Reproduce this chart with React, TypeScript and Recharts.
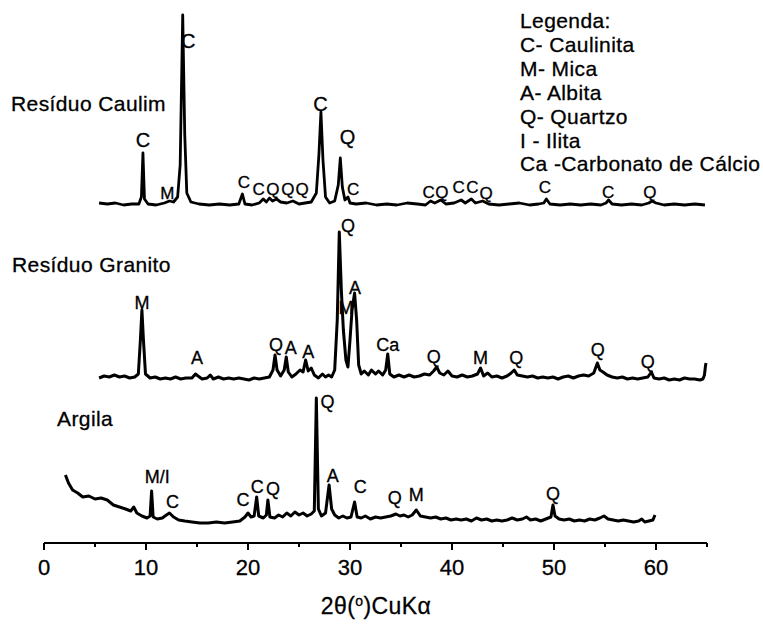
import { LineChart, Line, XAxis, YAxis, ReferenceDot } from "recharts";

// 2θ (deg) vs intensity above each pattern's own baseline (a.u.)
const caulim: [number, number][] = [
  [5.4, 2], [6.2, 1], [7.0, 2], [7.8, 0], [8.6, 1], [9.3, 1], [9.55, 8], [9.7, 52], [9.85, 6], [10.2, 1],
  [11.0, 0], [11.8, 2], [12.3, 4], [12.7, 3], [13.1, 8], [13.35, 40], [13.6, 190], [13.8, 70], [14.0, 12], [14.4, 3],
  [15.2, 1], [16.2, 0], [17.2, 1], [18.2, 0], [19.1, 1], [19.45, 11], [19.7, 1], [20.4, 0], [21.1, 2], [21.5, 6],
  [21.8, 3], [22.1, 7], [22.4, 4], [22.8, 6], [23.2, 3], [23.8, 2], [24.4, 4], [25.0, 1], [25.6, 2], [26.2, 3],
  [26.7, 12], [26.95, 50], [27.15, 93], [27.35, 45], [27.6, 8], [28.0, 2], [28.5, 4], [28.85, 20], [29.05, 47], [29.25, 18],
  [29.5, 5], [29.8, 8], [30.0, 2], [30.6, 1], [31.6, 2], [32.6, 0], [33.6, 1], [34.6, 0], [35.6, 2], [36.6, 1],
  [37.4, 0], [37.9, 4], [38.3, 2], [38.9, 5], [39.4, 1], [40.2, 2], [40.9, 5], [41.3, 2], [41.9, 6], [42.3, 2],
  [43.0, 4], [43.6, 1], [44.6, 0], [45.6, 1], [46.6, 2], [47.6, 0], [48.5, 1], [49.0, 2], [49.25, 6], [49.6, 1],
  [50.6, 0], [51.6, 1], [52.6, 0], [53.6, 1], [54.6, 0], [55.1, 2], [55.35, 5], [55.7, 1], [56.6, 0], [57.6, 1],
  [58.6, 0], [59.3, 2], [59.6, 4], [60.0, 2], [60.8, 0], [61.8, 1], [62.8, 0], [63.8, 1], [64.8, 0],
];

const granito: [number, number][] = [
  [5.4, 2], [5.9, 4], [6.4, 3], [6.9, 5], [7.4, 3], [7.9, 4], [8.4, 2], [8.9, 3], [9.25, 6], [9.45, 40],
  [9.6, 70], [9.75, 40], [9.95, 6], [10.4, 2], [10.9, 3], [11.4, 1], [11.9, 2], [12.4, 1], [12.9, 3], [13.4, 1],
  [13.9, 2], [14.5, 2], [14.85, 6], [15.1, 4], [15.5, 1], [16.0, 2], [16.3, 5], [16.6, 1], [17.1, 3], [17.6, 1],
  [18.1, 2], [18.6, 1], [19.1, 2], [19.6, 1], [20.1, 0], [20.6, 2], [21.1, 1], [21.6, 2], [22.1, 3], [22.45, 10],
  [22.65, 25], [22.85, 10], [23.2, 4], [23.55, 10], [23.75, 23], [23.95, 8], [24.3, 3], [24.7, 6], [25.1, 10], [25.4, 8],
  [25.65, 20], [25.9, 9], [26.2, 12], [26.5, 5], [26.9, 2], [27.3, 6], [27.6, 3], [27.9, 5], [28.2, 3], [28.5, 10],
  [28.75, 60], [28.95, 148], [29.15, 90], [29.35, 50], [29.6, 20], [29.8, 13], [30.0, 40], [30.2, 70], [30.45, 87], [30.65, 60],
  [30.85, 15], [31.1, 6], [31.4, 9], [31.8, 5], [32.1, 10], [32.5, 6], [32.8, 9], [33.2, 5], [33.5, 10], [33.7, 26],
  [33.9, 6], [34.3, 3], [34.8, 5], [35.3, 3], [35.8, 5], [36.3, 3], [36.8, 4], [37.3, 6], [37.8, 5], [38.2, 9],
  [38.5, 13], [38.8, 7], [39.2, 5], [39.6, 9], [40.0, 4], [40.5, 3], [41.0, 5], [41.5, 3], [42.0, 4], [42.5, 6],
  [42.8, 12], [43.1, 4], [43.5, 7], [43.9, 3], [44.4, 4], [44.9, 2], [45.4, 4], [45.8, 7], [46.1, 10], [46.4, 5],
  [46.9, 4], [47.4, 3], [47.9, 4], [48.4, 2], [48.9, 3], [49.4, 2], [49.9, 3], [50.4, 1], [50.9, 3], [51.4, 4],
  [51.9, 2], [52.4, 4], [52.9, 5], [53.4, 4], [53.9, 7], [54.25, 17], [54.5, 10], [54.8, 8], [55.2, 5], [55.7, 3],
  [56.2, 2], [56.7, 3], [57.2, 1], [57.7, 2], [58.2, 1], [58.7, 2], [59.2, 3], [59.55, 8], [59.8, 2], [60.3, 1],
  [60.8, 2], [61.3, 0], [61.8, 1], [62.3, 0], [62.8, 2], [63.3, 1], [63.8, 1], [64.3, 0], [64.6, 1], [64.75, 5],
  [64.85, 14], [64.9, 17],
];

const argila: [number, number][] = [
  [2.1, 46], [2.4, 38], [2.8, 31], [3.3, 28], [3.8, 24], [4.4, 25], [5.0, 22], [5.6, 23], [6.2, 21], [6.8, 16],
  [7.4, 14], [8.0, 12], [8.5, 10], [8.8, 14], [9.1, 8], [9.6, 5], [10.1, 3], [10.4, 5], [10.55, 30], [10.7, 4],
  [11.1, 2], [11.6, 3], [12.0, 6], [12.3, 8], [12.7, 4], [13.2, 1], [13.8, 0], [14.5, -1], [15.3, -2], [16.1, -2],
  [16.9, -1], [17.7, -2], [18.5, -1], [19.2, 0], [19.7, 4], [20.0, 8], [20.3, 4], [20.6, 5], [20.85, 24], [21.05, 5],
  [21.5, 3], [21.8, 6], [21.95, 21], [22.15, 4], [22.6, 3], [23.0, 6], [23.4, 4], [23.8, 8], [24.2, 5], [24.6, 9],
  [25.0, 6], [25.4, 8], [25.8, 5], [26.2, 7], [26.5, 10], [26.7, 123], [26.9, 12], [27.2, 5], [27.6, 8], [27.95, 36],
  [28.2, 12], [28.5, 6], [28.9, 3], [29.3, 5], [29.7, 3], [30.1, 4], [30.45, 19], [30.7, 4], [31.1, 3], [31.5, 5],
  [32.0, 2], [32.5, 4], [33.0, 3], [33.5, 4], [34.0, 5], [34.5, 7], [34.9, 5], [35.3, 6], [35.7, 4], [36.1, 6],
  [36.5, 11], [36.9, 5], [37.4, 4], [37.9, 3], [38.4, 4], [38.9, 2], [39.4, 3], [39.9, 1], [40.4, 2], [40.9, 1],
  [41.4, 2], [41.9, 0], [42.4, 3], [42.9, 1], [43.4, 2], [43.9, 0], [44.4, 1], [44.9, 0], [45.4, 1], [45.9, 3],
  [46.4, 1], [46.9, 2], [47.3, 4], [47.7, 1], [48.2, 2], [48.7, 0], [49.2, 2], [49.7, 4], [49.9, 16], [50.1, 5],
  [50.5, 2], [51.0, 1], [51.5, 2], [52.0, 0], [52.5, 1], [53.0, 0], [53.5, 2], [54.0, 1], [54.5, 3], [54.9, 5],
  [55.3, 2], [55.8, 1], [56.3, 0], [56.8, 1], [57.3, 0], [57.8, -1], [58.3, 0], [58.6, 2], [58.9, -1], [59.3, 0],
  [59.7, 1], [59.9, 6],
];

// stacking offsets of the three patterns
const CAULIM_OFFSET = 338;
const GRANITO_OFFSET = 163;
const ARGILA_OFFSET = 22;

// phase labels: [2θ, intensity above baseline, phase]
const caulimMarks: [number, number, string][] = [
  [9.7, 65, "C"], [14.15, 164, "C"], [27.1, 101, "C"], [29.75, 68, "Q"],
];
const caulimSmallMarks: [number, number, string][] = [
  [12.1, 12, "M"], [19.6, 23, "C"], [21.05, 16, "C"], [22.45, 16, "Q"], [23.9, 16, "Q"], [25.3, 16, "Q"],
  [30.3, 16, "C"], [37.7, 13, "C"], [39.0, 13, "Q"], [40.65, 18, "C"], [42.0, 18, "C"], [43.35, 12, "Q"],
  [49.1, 18, "C"], [55.3, 13, "C"], [59.4, 13, "Q"],
];
const granitoMarks: [number, number, string][] = [
  [9.6, 77, "M"], [15.0, 22, "A"], [22.75, 35, "Q"], [24.2, 32, "A"], [25.9, 28, "A"], [29.8, 154, "Q"],
  [29.6, 72, "M"], [30.5, 92, "A"], [33.7, 35, "Ca"], [38.2, 23, "Q"], [42.8, 22, "M"], [46.3, 22, "Q"],
  [54.3, 30, "Q"], [59.2, 18, "Q"],
];
const argilaMarks: [number, number, string][] = [
  [11.1, 44, "M/I"], [12.6, 19, "C"], [19.5, 21, "C"], [20.9, 34, "C"], [22.45, 32, "Q"], [27.8, 119, "Q"],
  [28.3, 45, "A"], [31.0, 34, "C"], [34.4, 23, "Q"], [36.5, 26, "M"], [49.9, 27, "Q"],
];

const majorTicks = [0, 10, 20, 30, 40, 50, 60];
const minorTicks = [5, 15, 25, 35, 45, 55, 65];

const legendLines = [
  "Legenda:",
  "C- Caulinita",
  "M- Mica",
  "A- Albita",
  "Q- Quartzo",
  "I - Ilita",
  "Ca -Carbonato de Cálcio",
];

const toRows = (pts: [number, number][], off: number) => pts.map(([t, i]) => ({ t, v: i + off }));

const FONT = '"Liberation Sans", Arial, Helvetica, sans-serif';

function Tick({ x, y, payload }: any) {
  const major = payload.value % 10 === 0;
  return (
    <g>
      <line x1={x} x2={x} y1={y} y2={y + (major ? 7 : 4)} stroke="#000" strokeWidth={2} />
      {major && (
        <text x={x} y={y + 24} textAnchor="middle" dominantBaseline="central" fontSize={22} fill="#000" stroke="#000" strokeWidth={0.3}>
          {payload.value}
        </text>
      )}
    </g>
  );
}

function Marks({ marks, off, size }: { marks: [number, number, string][]; off: number; size: number }) {
  return (
    <>
      {marks.map(([t, i, s], k) => (
        <ReferenceDot
          key={`${s}${k}${off}${size}`}
          x={t}
          y={i + off}
          r={0}
          fill="none"
          stroke="none"
          label={{ value: s, position: "center", fill: "#000", stroke: "#000", strokeWidth: 0.3, fontSize: size }}
        />
      ))}
    </>
  );
}

const textStyle = (left: number, top: number, size: number): React.CSSProperties => ({
  position: "absolute",
  left,
  top,
  fontSize: size,
  lineHeight: 1,
  letterSpacing: 0.4,
  transform: "translateY(-50%)",
  whiteSpace: "nowrap",
  color: "#000",
  WebkitTextStroke: "0.3px #000",
});

export default function App() {
  return (
    <div style={{ position: "absolute", left: 0, top: 0, width: 763, height: 626, background: "#fff", fontFamily: FONT }}>
      <LineChart width={763} height={626} margin={{ top: 13, right: 56, bottom: 0, left: 44 }}>
        <XAxis
          dataKey="t"
          type="number"
          domain={[0, 65]}
          ticks={[...majorTicks, ...minorTicks].sort((a, b) => a - b)}
          tick={<Tick />}
          tickSize={0}
          tickMargin={0}
          tickLine={false}
          height={83}
          axisLine={{ stroke: "#000", strokeWidth: 2 }}
          allowDuplicatedCategory={false}
        />
        <YAxis type="number" domain={[0, 530]} hide />
        <Line data={toRows(caulim, CAULIM_OFFSET)} dataKey="v" type="linear" stroke="#000" strokeWidth={2.8} dot={false} isAnimationActive={false} strokeLinejoin="round" />
        <Line data={toRows(granito, GRANITO_OFFSET)} dataKey="v" type="linear" stroke="#000" strokeWidth={3} dot={false} isAnimationActive={false} strokeLinejoin="round" />
        <Line data={toRows(argila, ARGILA_OFFSET)} dataKey="v" type="linear" stroke="#000" strokeWidth={3} dot={false} isAnimationActive={false} strokeLinejoin="round" />
        {Marks({ marks: caulimMarks, off: CAULIM_OFFSET, size: 20 })}
        {Marks({ marks: caulimSmallMarks, off: CAULIM_OFFSET, size: 17 })}
        {Marks({ marks: granitoMarks, off: GRANITO_OFFSET, size: 18 })}
        {Marks({ marks: argilaMarks, off: ARGILA_OFFSET, size: 18 })}
      </LineChart>

      <div style={textStyle(11, 103, 21)}>Resíduo Caulim</div>
      <div style={textStyle(12, 264, 21)}>Resíduo Granito</div>
      <div style={textStyle(57, 418, 21)}>Argila</div>

      {legendLines.map((s, i) => (
        <div key={s} style={textStyle(520, 20 + i * 23.9, 21)}>{s}</div>
      ))}

      <div style={{ ...textStyle(376, 606, 23), transform: "translate(-50%, -50%)" }}>
        2θ(<sup style={{ fontSize: 14 }}>o</sup>)CuKα
      </div>
    </div>
  );
}
